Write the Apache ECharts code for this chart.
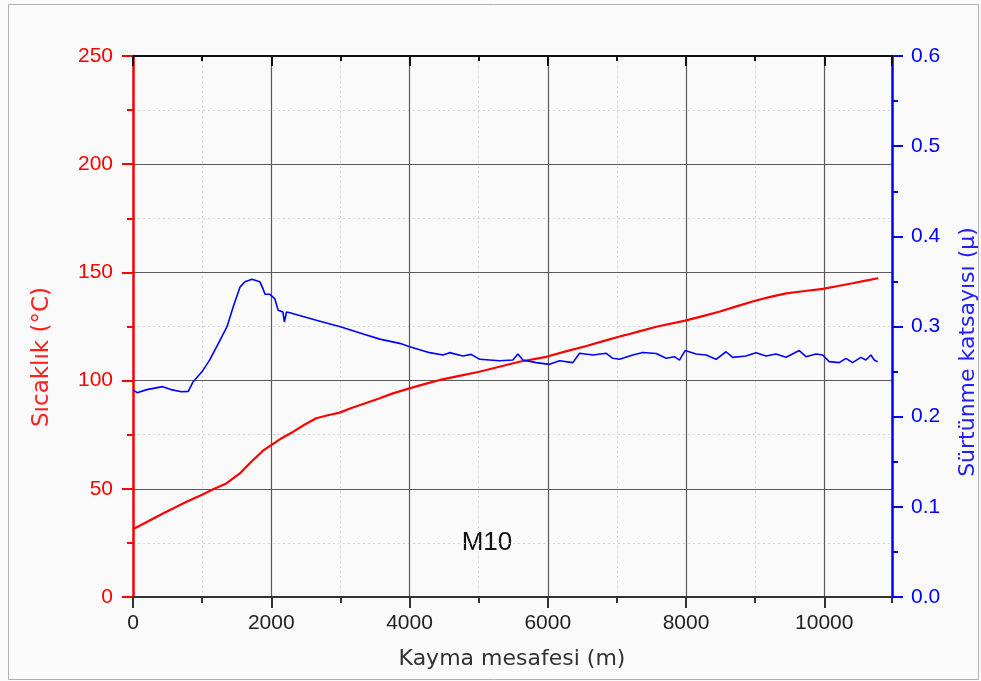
<!DOCTYPE html>
<html>
<head>
<meta charset="utf-8">
<script src="https://cdn.jsdelivr.net/npm/echarts@6/dist/echarts.min.js"></script>
<style>
  html, body { margin: 0; padding: 0; background: #fafafa; }
  #chart { width: 981px; height: 681px; }
</style>
</head>
<body>
<div id="chart"></div>
<script>
// sıcaklık (°C) - kayma mesafesi (m)
var tempX = [0, 440, 775, 1000, 1160, 1350, 1550, 1690, 1880, 2000, 2150, 2320, 2480, 2650, 2820, 2990,
  3160, 3330, 3550, 3760, 4000, 4240, 4440, 4720, 5010, 5300, 5590, 5980, 6260, 6560, 6840, 7040,
  7130, 7350, 7570, 7990, 8240, 8480, 8740, 9000, 9220, 9450, 9720, 9980, 10200, 10410, 10600, 10780];
var tempY = [31.3, 38.7, 44.0, 47.3, 49.8, 52.5, 57.2, 61.8, 67.6, 70.2, 73.4, 76.4, 79.6, 82.6, 84.0, 85.2,
  87.3, 89.2, 91.6, 94.1, 96.4, 98.6, 100.3, 102.2, 104.1, 106.4, 108.7, 111.0, 113.5, 116.0, 118.6, 120.4,
  121.1, 123.0, 124.9, 127.7, 129.8, 131.8, 134.4, 136.9, 138.7, 140.3, 141.4, 142.4, 143.7, 145.0, 146.2, 147.3];

// sürtünme katsayısı
var muX = [0, 60, 200, 430, 550, 700, 800, 870, 1000, 1110, 1260, 1360, 1450, 1550, 1620, 1720, 1835,
  1880, 1910, 1980, 2050, 2100, 2170, 2190, 2220, 2270, 2460, 2730, 3000, 3330, 3570, 3858, 4003,
  4292, 4484, 4580, 4773, 4893, 5014, 5303, 5496, 5568, 5640, 5833, 6026, 6170, 6363, 6460, 6653,
  6845, 6942, 7038, 7230, 7375, 7568, 7713, 7833, 7905, 7987, 8146, 8290, 8435, 8579, 8676, 8868,
  9013, 9158, 9302, 9447, 9639, 9736, 9880, 9976, 10072, 10217, 10313, 10409, 10530, 10602, 10675,
  10723, 10771];
var muY = [0.2296, 0.2266, 0.2300, 0.2333, 0.2300, 0.2277, 0.2280, 0.2388, 0.250, 0.263, 0.285, 0.2998,
  0.322, 0.344, 0.3497, 0.3523, 0.3497, 0.342, 0.3357, 0.3357, 0.331, 0.318, 0.316, 0.305, 0.316,
  0.3153, 0.311, 0.3053, 0.2998, 0.2917, 0.2860, 0.2813, 0.2776, 0.271, 0.2684, 0.271, 0.2673, 0.2691,
  0.2636, 0.262, 0.2628, 0.2695, 0.2628, 0.2599, 0.258, 0.262, 0.2599, 0.2703, 0.2684, 0.2703, 0.2647,
  0.2636, 0.2684, 0.2711, 0.2700, 0.2647, 0.2665, 0.2628, 0.2733, 0.2695, 0.2684, 0.2636, 0.272,
  0.2658, 0.2673, 0.271, 0.2673, 0.2695, 0.2658, 0.2733, 0.2665, 0.2695, 0.2684, 0.261, 0.2599,
  0.2647, 0.2599, 0.2658, 0.2628, 0.2684, 0.2628, 0.261];

var xMax = 10980;
var font = '"Liberation Sans", Arial, sans-serif';
var titleFont = '"DejaVu Sans", sans-serif';

function pairs(xs, ys) {
  return xs.map(function (x, i) { return [x, ys[i]]; });
}

var chart = echarts.init(document.getElementById('chart'));

var xBase = { type: 'value', min: 0, max: xMax, gridIndex: 0 };

chart.setOption({
  animation: false,
  backgroundColor: '#fafafa',
  grid: { left: 133, right: 89, top: 56, bottom: 84 },
  xAxis: [
    Object.assign({}, xBase, {
      position: 'bottom', interval: 2000, z: 2,
      axisLine: { onZero: false, lineStyle: { color: '#333', width: 2 } },
      axisTick: { length: 11, lineStyle: { color: '#333', width: 2 } },
      axisLabel: {
        margin: 16, fontSize: 21, color: '#222', fontFamily: font, showMaxLabel: false,
        formatter: function (v) { return String(v); }
      },
      splitLine: { lineStyle: { color: '#5a5a5a', width: 1.2 } }
    }),
    Object.assign({}, xBase, {
      position: 'bottom', interval: 1000, z: 0,
      axisLine: { show: false, onZero: false },
      axisTick: { length: 6, lineStyle: { color: '#333', width: 2 } },
      axisLabel: { show: false },
      splitLine: { lineStyle: { color: '#d4d4d4', width: 1, type: [2, 3] } }
    }),
    Object.assign({}, xBase, {
      position: 'top', interval: 2000, z: 2,
      axisLine: { onZero: false, lineStyle: { color: '#111', width: 2 } },
      axisTick: { inside: true, length: 10, lineStyle: { color: '#111', width: 2 } },
      axisLabel: { show: false },
      splitLine: { show: false }
    }),
    Object.assign({}, xBase, {
      position: 'top', interval: 1000, z: 2,
      axisLine: { show: false, onZero: false },
      axisTick: { inside: true, length: 5, lineStyle: { color: '#111', width: 2 } },
      axisLabel: { show: false },
      splitLine: { show: false }
    })
  ],
  yAxis: [
    {
      type: 'value', position: 'left', min: 0, max: 250, interval: 50, z: 2,
      axisLine: { show: true, onZero: false, lineStyle: { color: '#ff0000', width: 2.5 } },
      axisTick: { show: true, length: 11, lineStyle: { color: '#ff0000', width: 2 } },
      minorTick: { show: true, splitNumber: 2, length: 6, lineStyle: { color: '#ff0000', width: 2 } },
      axisLabel: { margin: 20, fontSize: 21, color: '#ff0000', fontFamily: font },
      splitLine: { lineStyle: { color: '#5a5a5a', width: 1.2 } },
      minorSplitLine: { show: true, lineStyle: { color: '#d4d4d4', width: 1, type: [2, 3] } }
    },
    {
      type: 'value', position: 'right', min: 0, max: 0.6, interval: 0.1, z: 2,
      axisLine: { show: true, onZero: false, lineStyle: { color: '#0000ff', width: 2.5 } },
      axisTick: { show: true, length: 11, lineStyle: { color: '#0000ff', width: 2 } },
      minorTick: { show: true, splitNumber: 2, length: 6, lineStyle: { color: '#0000ff', width: 2 } },
      axisLabel: {
        margin: 19, fontSize: 21, color: '#0000ff', fontFamily: font,
        formatter: function (v) { return v.toFixed(1); }
      },
      splitLine: { show: false }
    }
  ],
  graphic: [
    {
      type: 'rect', left: 6, top: 2, silent: true, z: -1,
      shape: { width: 970, height: 675 },
      style: { fill: 'none', stroke: '#b0b0b0', lineWidth: 1 }
    },
    {
      type: 'text', x: 512, y: 659,
      style: { text: 'Kayma mesafesi (m)', fill: '#333', font: '22px ' + titleFont, align: 'center', verticalAlign: 'middle' }
    },
    {
      type: 'text', x: 42, y: 357, rotation: Math.PI / 2,
      style: { text: 'Sıcaklık (°C)', fill: '#ff2020', font: '23px ' + titleFont, align: 'center', verticalAlign: 'middle' }
    },
    {
      type: 'text', x: 968, y: 352, rotation: Math.PI / 2,
      style: { text: 'Sürtünme katsayısı (μ)', fill: '#2020ff', font: '22px ' + titleFont, align: 'center', verticalAlign: 'middle' }
    },
    {
      type: 'text', x: 487, y: 543,
      style: { text: 'M10', fill: '#111', font: '26px ' + font, align: 'center', verticalAlign: 'middle' }
    }
  ],
  series: [
    {
      name: 'Sıcaklık', type: 'line', xAxisIndex: 0, yAxisIndex: 0,
      data: pairs(tempX, tempY), showSymbol: false,
      lineStyle: { color: '#ff0000', width: 2.2 }, z: 3
    },
    {
      name: 'Sürtünme katsayısı', type: 'line', xAxisIndex: 0, yAxisIndex: 1,
      data: pairs(muX, muY), showSymbol: false,
      lineStyle: { color: '#0000ff', width: 1.6 }, z: 4
    }
  ]
});
</script>
</body>
</html>
